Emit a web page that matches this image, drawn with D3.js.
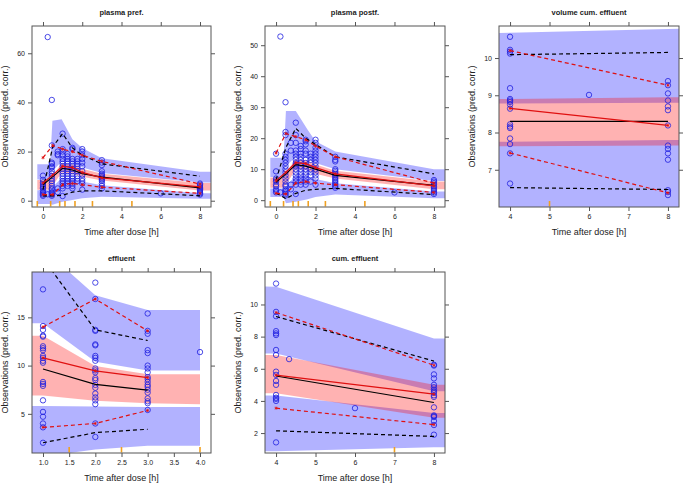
<!DOCTYPE html>
<html><head><meta charset="utf-8">
<script src="https://cdn.jsdelivr.net/npm/d3@7"></script>
<style>
body{margin:0;background:#fff}
svg{display:block}
text{font-family:"Liberation Sans",Arial,sans-serif;fill:#222}
</style>
</head><body>
<svg id="c" width="685" height="486"></svg>
<script>
// ---------------- DATA ----------------
const titles = ["plasma pref.", "plasma postf.", "volume cum. effluent", "effluent", "cum. effluent"];
const xLabel = "Time after dose [h]";
const yLabel = "Observations (pred. corr.)";

// axis limits and ticks
const xDom1 = [-0.56, 8.56], yDom1 = [-2.56, 71.1];
const xDom2 = [-0.56, 8.56], yDom2 = [-2.2, 56.2];
const xDom3 = [3.72, 8.28],  yDom3 = [6.0, 10.86];
const xDom4 = [0.79, 4.21],  yDom4 = [0.94, 19.7];
const xDom5 = [3.72, 8.28],  yDom5 = [0.76, 12.02];
const xTicks1 = [0, 2, 4, 6, 8], yTicks1 = [0, 20, 40, 60];
const xTicks2 = [0, 2, 4, 6, 8], yTicks2 = [0, 10, 20, 30, 40, 50];
const xTicks3 = [4, 5, 6, 7, 8], yTicks3 = [7, 8, 9, 10];
const xTicks4 = [1.0, 1.5, 2.0, 2.5, 3.0, 3.5, 4.0], yTicks4 = [5, 10, 15];
const xTicks5 = [4, 5, 6, 7, 8], yTicks5 = [2, 4, 6, 8, 10];

// bin boundaries (rug)
const bins1 = [-0.29, 0.39, 0.85, 1.12, 1.63, 2.52, 4.53];
const bins2 = [-0.29, 0.38, 0.86, 1.13, 1.63, 2.5, 4.5];
const bins3 = [5];
const bins4 = [1.5, 2.5, 4.0];
const bins5 = [7];

// ---- panel 1: plasma pref.
const bandX1 = [-0.29, 0.36, 0.48, 0.95, 1.5, 2.0, 3.0, 8.0, 8.7];
const hiHi1  = [14.8, 14.8, 32.5, 33.2, 25, 21.5, 17.3, 11.8, 11.8];
const hiLo1  = [8.6, 8.6, 12, 16, 15.5, 13.5, 11.3, 7.4, 7.4];
const medHi1 = [8.4, 8.4, 10, 15.3, 14.7, 13, 11, 7.2, 7.2];
const medLo1 = [4.5, 4.5, 6, 11.5, 11, 9.7, 8.2, 4.2, 4.2];
const loHi1  = [4.3, 4.3, 5.5, 9.2, 9, 7.8, 6.3, 3, 3];
const loLo1  = [-1.3, -1.3, -1.6, -0.5, 0.3, 1, 1.6, 0.8, 0.8];
const lineX1 = [0, 0.5, 1.0, 1.5, 2.0, 3.0, 8.0];
const obsMed1 = [7.2, 10.5, 14, 13.5, 11.5, 9.3, 5.6];
const simMed1 = [6.5, 9.8, 13.2, 12.5, 11, 9.6, 5.2];
const obsHi1  = [17.5, 22.5, 21, 20, 18.5, 16, 6.8];
const simHi1  = [4.5, 22, 27.3, 21.5, 18.5, 15, 10];
const obsLo1  = [2.5, 2.5, 6.5, 7, 6.5, 5.5, 3];
const simLo1  = [2, 2, 2.2, 3.5, 4, 4, 2];
const ptX1 = [0, 0.24, 0.45, 0.75, 1.0, 1.25, 1.5, 1.75, 2.0, 3.0, 6.0, 8.0];
const ptY1 = [
  [10.2, 8.5, 7.5, 6.8, 6, 5.5, 5, 4.2, 3.5, 3, 2.5, 2],
  [66.6, 2.6],
  [41, 22.5, 15.5, 15, 14, 13.5, 12, 11, 10, 9, 8, 7, 6, 5, 4.5, 3.5, 3, 2.5, 2],
  [20, 19, 18.5, 5, 3.5],
  [27.3, 21, 20, 18.5, 17, 16, 15, 14, 13, 12, 11, 10, 9, 8, 7, 6, 5, 1.9],
  [19, 18, 17, 16, 15, 14, 13, 12, 11, 10, 9, 8, 7, 6],
  [21.5, 21, 17, 16, 15, 14, 13, 12, 11, 10, 9, 8, 7, 6, 5],
  [17, 16, 15, 14, 13, 12, 10, 9, 8],
  [21, 20, 18.5, 17, 15.5, 14, 12, 10.5, 9, 8, 7, 4.5],
  [16.5, 15.5, 14.5, 12, 11, 10.5, 10, 9.5, 9, 8.5, 8, 7, 6, 5],
  [3],
  [7, 6.5, 6, 5.5, 5, 4.5, 4, 3.5, 3, 2.5]
];

// ---- panel 2: plasma postf.
const bandX2 = [-0.29, 0.38, 0.5, 1.0, 1.6, 2.0, 3.0, 8.0, 8.7];
const hiHi2  = [13.7, 13.7, 28.8, 28.8, 22.7, 19, 15.7, 10, 10];
const hiLo2  = [7.5, 7.5, 11, 14, 13.5, 12, 10, 6.2, 6.2];
const medHi2 = [7.3, 7.3, 9, 13.2, 12.8, 11.5, 9.5, 6, 6];
const medLo2 = [4, 4, 5, 10, 9.7, 8.5, 7, 3.5, 3.5];
const loHi2  = [3.8, 3.8, 4.5, 8, 7.8, 6.8, 5.5, 2.8, 2.8];
const loLo2  = [1, 1, -1, -0.5, 0.3, 1, 1.8, 0.6, 0.6];
const lineX2 = [0, 0.5, 1.0, 1.5, 2.0, 3.0, 8.0];
const obsMed2 = [6.3, 9, 12.1, 11.8, 10.5, 8.5, 4.6];
const simMed2 = [5.8, 8.5, 11.5, 11, 10, 8, 4.8];
const obsHi2  = [15.2, 21.5, 20.5, 19.5, 17.5, 14, 5.5];
const simHi2  = [6.5, 17, 23.2, 20, 18, 14, 8.5];
const obsLo2  = [2.2, 2, 5.5, 6, 5.5, 5, 2.5];
const simLo2  = [2.3, 0.5, 2.2, 3.2, 3.5, 3.8, 1.8];
const ptX2 = [0, 0.22, 0.48, 0.75, 1.0, 1.25, 1.5, 1.75, 2.0, 3.0, 6.0, 8.0];
const ptY2 = [
  [15, 9.3, 7, 6.5, 6, 5, 4.5, 3.5, 3, 2.5],
  [52.8, 2.5],
  [31.6, 22, 21, 15, 14, 13, 12, 11, 10, 9, 8, 7, 6, 5, 4.5, 3.5, 3, 2.5, 2, 1.5],
  [18.5, 16, 5, 3.5],
  [25, 21, 18.5, 16, 15, 14, 13, 12, 11.5, 11, 10, 9, 8, 7, 6, 5, 2],
  [17.5, 16.5, 15, 14, 13, 12, 11, 10, 9, 8, 7, 6, 5],
  [19.5, 19, 18, 16, 15, 13, 12, 11, 10, 9, 8, 7, 6, 5],
  [15, 14, 13, 12, 10, 9, 8, 6],
  [19.5, 18.5, 17, 16, 15, 14, 13, 12, 11, 10, 9, 8, 7, 5],
  [14, 13, 12.5, 10, 9.5, 9, 8.5, 8, 7.5, 7, 6.5, 6, 5.5, 5, 4.5, 4],
  [2.5],
  [6.5, 6, 5.5, 5, 4.5, 4, 3.5, 3, 2.5, 2]
];

// ---- panel 3: volume cum. effluent
const bandX3 = [3.5, 4, 8, 8.5];
const hiHi3  = [10.67, 10.68, 10.78, 10.79];
const hiLo3  = [8.78, 8.78, 8.8, 8.8];
const medHi3 = [8.9, 8.9, 8.95, 8.95];
const medLo3 = [7.63, 7.63, 7.65, 7.65];
const loHi3  = [7.75, 7.75, 7.8, 7.8];
const loLo3  = [5.5, 5.5, 5.5, 5.5];
const lineX3 = [4, 8];
const obsMed3 = [8.65, 8.19];
const simMed3 = [8.3, 8.3];
const obsHi3  = [10.2, 9.27];
const simHi3  = [10.09, 10.15];
const obsLo3  = [7.45, 6.38];
const simLo3  = [6.52, 6.47];
const ptX3 = [4, 6, 8];
const ptY3 = [
  [10.57, 10.22, 10.17, 10.12, 9.19, 8.9, 8.86, 8.82, 8.75, 8.64, 8.22, 8.16, 8.12, 7.84, 7.69, 7.44, 6.63],
  [9.01],
  [9.38, 9.27, 9.05, 8.86, 8.7, 8.6, 8.19, 7.65, 7.56, 7.44, 7.27, 6.45, 6.4, 6.32]
];

// ---- panel 4: effluent
const bandX4 = [0.5, 1, 2, 3, 4];
const hiHi4  = [22.1, 22.1, 17.3, 15.75, 15.75];
const hiLo4  = [14.4, 14.4, 10.4, 9.5, 9.5];
const medHi4 = [13.1, 13.1, 9.95, 9.1, 9.1];
const medLo4 = [6.9, 6.9, 6.35, 6.1, 6.0];
const loHi4  = [5.8, 5.8, 5.75, 5.7, 5.7];
const loLo4  = [0.58, 0.58, 1.3, 1.7, 1.7];
const lineX4 = [1, 2, 3];
const obsMed4 = [10.8, 9.45, 8.75];
const simMed4 = [9.65, 8.05, 7.45];
const obsHi4  = [14.0, 16.9, 13.6];
const simHi4  = [21.1, 13.7, 12.6];
const obsLo4  = [3.6, 4.0, 5.35];
const simLo4  = [2.0, 3.05, 3.4];
const ptX4 = [1, 2, 3, 4];
const ptY4 = [
  [17.9, 14.1, 13.7, 13.1, 13.0, 12.0, 11.8, 11.6, 11.0, 10.8, 10.5, 10.3, 8.3, 8.1, 7.9, 6.4, 5.2, 4.7, 4.0, 3.6, 2.0],
  [18.6, 16.9, 13.7, 13.6, 12.2, 12.1, 11.0, 10.8, 10.5, 9.7, 9.5, 9.3, 8.7, 8.5, 8.0, 7.7, 7.1, 6.7, 6.4, 6.0, 4.0, 2.6],
  [15.4, 13.6, 13.3, 11.6, 11.3, 10.0, 9.7, 9.3, 8.8, 8.6, 8.3, 8.0, 7.8, 7.5, 7.2, 6.6, 6.3, 6.1, 5.4],
  [11.4]
];

// ---- panel 5: cum. effluent
const bandX5 = [3.5, 4, 8, 8.5];
const hiHi5  = [11.13, 11.1, 7.89, 7.89];
const hiLo5  = [6.96, 6.95, 4.6, 4.6];
const medHi5 = [6.86, 6.85, 5.0, 5.0];
const medLo5 = [4.48, 4.48, 2.95, 2.95];
const loHi5  = [4.33, 4.33, 3.25, 3.25];
const loLo5  = [0.87, 0.87, 1.12, 1.12];
const lineX5 = [4, 8];
const obsMed5 = [5.6, 4.42];
const simMed5 = [5.55, 3.9];
const obsHi5  = [9.5, 6.22];
const simHi5  = [9.25, 6.48];
const obsLo5  = [3.55, 2.52];
const simLo5  = [2.14, 1.79];
const ptX5 = [4, 4.33, 6, 8];
const ptY5 = [
  [11.3, 9.54, 9.27, 8.34, 8.2, 8.1, 7.17, 6.86, 5.82, 5.62, 5.24, 5.0, 4.37, 4.2, 4.13, 4.0, 1.42],
  [6.6],
  [3.55],
  [6.25, 6.2, 5.65, 5.4, 5.0, 4.85, 4.7, 4.6, 4.5, 4.35, 4.25, 3.6, 3.1, 3.05, 3.0, 2.75, 2.5, 1.9]
];

// ---------------- LAYOUT ----------------
const frames = [
  {l: 32,  t: 26,  r: 211, b: 207},
  {l: 265, t: 26,  r: 445, b: 207},
  {l: 499, t: 26,  r: 679, b: 207},
  {l: 32,  t: 272, r: 211, b: 453},
  {l: 265, t: 272, r: 445, b: 453}
];

const panels = [
  {xDom: xDom1, yDom: yDom1, xT: xTicks1, yT: yTicks1, bins: bins1, bx: bandX1, hiHi: hiHi1, hiLo: hiLo1, medHi: medHi1, medLo: medLo1, loHi: loHi1, loLo: loLo1, lx: lineX1, obsMed: obsMed1, simMed: simMed1, obsHi: obsHi1, simHi: simHi1, obsLo: obsLo1, simLo: simLo1, px: ptX1, py: ptY1, fmt: d3.format("d")},
  {xDom: xDom2, yDom: yDom2, xT: xTicks2, yT: yTicks2, bins: bins2, bx: bandX2, hiHi: hiHi2, hiLo: hiLo2, medHi: medHi2, medLo: medLo2, loHi: loHi2, loLo: loLo2, lx: lineX2, obsMed: obsMed2, simMed: simMed2, obsHi: obsHi2, simHi: simHi2, obsLo: obsLo2, simLo: simLo2, px: ptX2, py: ptY2, fmt: d3.format("d")},
  {xDom: xDom3, yDom: yDom3, xT: xTicks3, yT: yTicks3, bins: bins3, bx: bandX3, hiHi: hiHi3, hiLo: hiLo3, medHi: medHi3, medLo: medLo3, loHi: loHi3, loLo: loLo3, lx: lineX3, obsMed: obsMed3, simMed: simMed3, obsHi: obsHi3, simHi: simHi3, obsLo: obsLo3, simLo: simLo3, px: ptX3, py: ptY3, fmt: d3.format("d")},
  {xDom: xDom4, yDom: yDom4, xT: xTicks4, yT: yTicks4, bins: bins4, bx: bandX4, hiHi: hiHi4, hiLo: hiLo4, medHi: medHi4, medLo: medLo4, loHi: loHi4, loLo: loLo4, lx: lineX4, obsMed: obsMed4, simMed: simMed4, obsHi: obsHi4, simHi: simHi4, obsLo: obsLo4, simLo: simLo4, px: ptX4, py: ptY4, fmt: d3.format(".1f")},
  {xDom: xDom5, yDom: yDom5, xT: xTicks5, yT: yTicks5, bins: bins5, bx: bandX5, hiHi: hiHi5, hiLo: hiLo5, medHi: medHi5, medLo: medLo5, loHi: loHi5, loLo: loLo5, lx: lineX5, obsMed: obsMed5, simMed: simMed5, obsHi: obsHi5, simHi: simHi5, obsLo: obsLo5, simLo: simLo5, px: ptX5, py: ptY5, fmt: d3.format("d")}
];

const svg = d3.select("#c");
const frameCol = "#555";

panels.forEach((p, i) => {
  const f = frames[i];
  const x = d3.scaleLinear().domain(p.xDom).range([f.l, f.r]);
  const y = d3.scaleLinear().domain(p.yDom).range([f.b, f.t]);
  const g = svg.append("g");
  const cid = "clip" + i;
  svg.append("defs").append("clipPath").attr("id", cid)
    .append("rect").attr("x", f.l).attr("y", f.t).attr("width", f.r - f.l).attr("height", f.b - f.t);
  const inner = g.append("g").attr("clip-path", `url(#${cid})`);

  const band = (lo, hi) => d3.area()
    .x((d, k) => x(p.bx[k])).y0((d, k) => y(lo[k])).y1((d, k) => y(hi[k]))(p.bx);
  inner.append("path").attr("d", band(p.hiLo, p.hiHi)).attr("fill", "rgb(0,0,255)").attr("fill-opacity", 0.3);
  inner.append("path").attr("d", band(p.loLo, p.loHi)).attr("fill", "rgb(0,0,255)").attr("fill-opacity", 0.3);
  inner.append("path").attr("d", band(p.medLo, p.medHi)).attr("fill", "rgb(255,0,0)").attr("fill-opacity", 0.3);

  // observations
  const pts = [];
  p.px.forEach((xv, k) => p.py[k].forEach(v => pts.push([xv, v])));
  inner.selectAll("circle.obs").data(pts).join("circle")
    .attr("cx", d => x(d[0])).attr("cy", d => y(d[1])).attr("r", 2.7)
    .attr("fill", "none").attr("stroke", "#2020e0").attr("stroke-width", 0.8);

  const line = vals => d3.line().x((d, k) => x(p.lx[k])).y((d, k) => y(vals[k]))(p.lx);
  const drawLine = (vals, col, dash) => inner.append("path").attr("d", line(vals))
    .attr("fill", "none").attr("stroke", col).attr("stroke-width", 1.2)
    .attr("stroke-dasharray", dash ? "4,3" : null);
  drawLine(p.simHi, "#000", true);
  drawLine(p.simLo, "#000", true);
  drawLine(p.simMed, "#000", false);
  drawLine(p.obsHi, "#e01010", true);
  drawLine(p.obsLo, "#e01010", true);
  drawLine(p.obsMed, "#e01010", false);

  // small red markers at observed percentile vertices
  const star = d3.symbol().type(d3.symbolAsterisk).size(7);
  [p.obsHi, p.obsMed, p.obsLo].forEach(vals => {
    inner.selectAll(null).data(p.lx).join("path")
      .attr("transform", (d, k) => `translate(${x(d)},${y(vals[k])})`)
      .attr("d", star()).attr("fill", "none").attr("stroke", "#e01010").attr("stroke-width", 0.8);
  });

  // rug of bin boundaries
  g.selectAll("line.rug").data(p.bins).join("line")
    .attr("x1", d => x(d)).attr("x2", d => x(d)).attr("y1", f.b - 0.5).attr("y2", f.b - 6)
    .attr("stroke", "#f0a020").attr("stroke-width", 1.6);

  // frame
  g.append("rect").attr("x", f.l).attr("y", f.t).attr("width", f.r - f.l).attr("height", f.b - f.t)
    .attr("fill", "none").attr("stroke", frameCol).attr("stroke-width", 1);

  // axes
  const styleAxis = sel => {
    sel.select(".domain").remove();
    sel.selectAll(".tick line").attr("stroke", frameCol);
    sel.selectAll(".tick text").style("font-size", "7px").style("font-family", "Liberation Sans, Arial, sans-serif").attr("fill", "#333");
  };
  g.append("g").attr("transform", `translate(0,${f.b})`)
    .call(d3.axisBottom(x).tickValues(p.xT).tickFormat(p.fmt).tickSize(4).tickPadding(3)).call(styleAxis);
  g.append("g").attr("transform", `translate(0,${f.t})`)
    .call(d3.axisTop(x).tickValues(p.xT).tickFormat("").tickSize(4)).call(styleAxis);
  g.append("g").attr("transform", `translate(${f.l},0)`)
    .call(d3.axisLeft(y).tickValues(p.yT).tickFormat(d3.format("d")).tickSize(4).tickPadding(3)).call(styleAxis);
  g.append("g").attr("transform", `translate(${f.r},0)`)
    .call(d3.axisRight(y).tickValues(p.yT).tickFormat("").tickSize(4)).call(styleAxis);

  // titles
  const cx = (f.l + f.r) / 2;
  g.append("text").attr("x", cx).attr("y", f.t - 11).attr("text-anchor", "middle")
    .style("font-size", "7.5px").style("font-weight", "bold").text(titles[i]);
  g.append("text").attr("x", cx).attr("y", f.b + 28).attr("text-anchor", "middle")
    .style("font-size", "9px").attr("fill", "#333").text(xLabel);
  g.append("text").attr("transform", `translate(${f.l - 24},${(f.t + f.b) / 2}) rotate(-90)`)
    .attr("text-anchor", "middle").style("font-size", "9px").attr("fill", "#333").text(yLabel);
});
</script>
</body></html>
